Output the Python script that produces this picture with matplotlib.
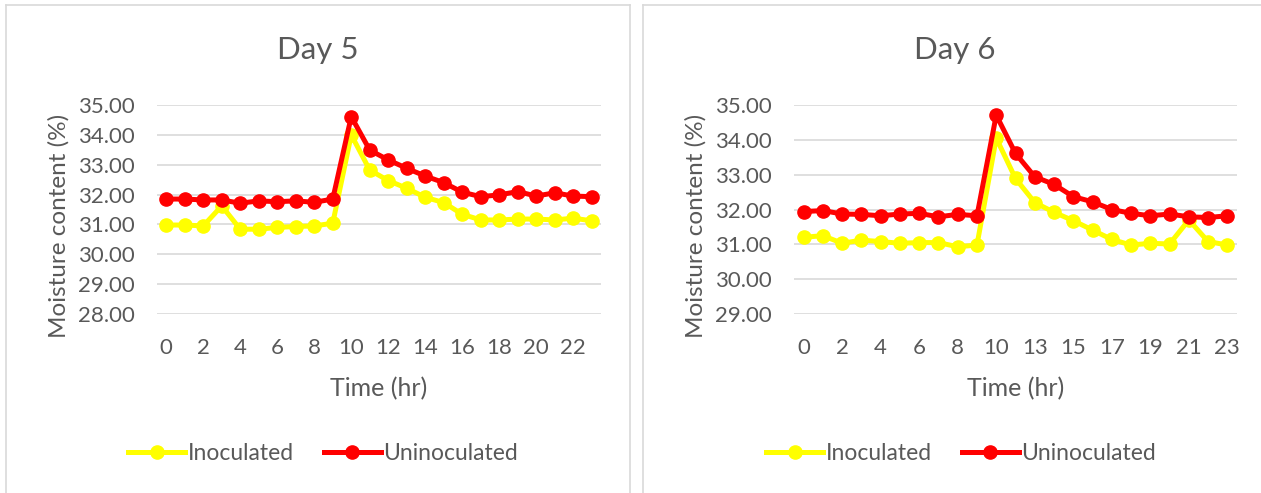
import matplotlib
matplotlib.use("Agg")
import matplotlib.pyplot as plt
from matplotlib.lines import Line2D

plt.rcParams["font.family"] = ["Lato", "DejaVu Sans"]

# Day 5: hourly readings 0..23
day5_hours = [str(h) for h in range(24)]
day5_inoc = [30.98, 30.98, 30.95, 31.62, 30.84, 30.84, 30.90, 30.93, 30.95, 31.04,
             34.00, 32.82, 32.47, 32.21, 31.91, 31.73, 31.34, 31.15, 31.15, 31.18,
             31.18, 31.15, 31.21, 31.12]
day5_uninoc = [31.85, 31.85, 31.82, 31.82, 31.71, 31.79, 31.76, 31.79, 31.74, 31.85,
               34.61, 33.49, 33.16, 32.88, 32.62, 32.40, 32.08, 31.93, 31.99, 32.10,
               31.95, 32.06, 31.95, 31.93]

# Day 6: 23 readings (hour 12 missing)
day6_hours = [str(h) for h in list(range(12)) + list(range(13, 24))]
day6_inoc = [31.20, 31.25, 31.03, 31.12, 31.08, 31.03, 31.05, 31.05, 30.93, 30.98,
             34.05, 32.89, 32.20, 31.92, 31.68, 31.41, 31.14, 30.98, 31.03, 31.01,
             31.70, 31.08, 30.98]
day6_uninoc = [31.94, 31.97, 31.87, 31.86, 31.82, 31.87, 31.89, 31.79, 31.86, 31.82,
               34.71, 33.61, 32.94, 32.72, 32.37, 32.22, 32.00, 31.89, 31.82, 31.87,
               31.79, 31.77, 31.82]

W, H = 1261, 493
TXT = "#595959"
GRID = "#d9d9d9"
YEL = "#ffff00"
RED = "#ff0000"

fig = plt.figure(figsize=(W / 100, H / 100), dpi=100)


def px(x0, y0, x1, y1):
    return [x0 / W, 1 - y1 / H, (x1 - x0) / W, (y1 - y0) / H]


def panel_border(x0, x1):
    for xs, ys in [([x0, x0], [5, H + 5]), ([x0, x1], [5, 5]), ([x1, x1], [5, H + 5])]:
        fig.add_artist(Line2D([x / W for x in xs], [1 - y / H for y in ys],
                              color=GRID, lw=1.2))


def draw(rect, hours, inoc, uninoc, ymin, title, leg_x, title_x):
    ax = fig.add_axes(rect)
    xs = range(len(hours))
    ax.plot(xs, inoc, color=YEL, lw=3.6, marker="o", ms=9.5, label="Inoculated",
            solid_joinstyle="round")
    ax.plot(xs, uninoc, color=RED, lw=3.6, marker="o", ms=9.5, label="Uninoculated",
            solid_joinstyle="round")
    ax.set_xlim(-0.5, len(hours) - 0.5)
    ax.set_ylim(ymin, 35)
    ax.set_yticks(range(ymin, 36))
    ax.set_yticklabels([f"{v:.2f}" for v in range(ymin, 36)])
    ax.set_xticks(list(xs)[::2])
    ax.set_xticklabels(hours[::2])
    ax.grid(axis="y", color=GRID, lw=1.2)
    ax.set_axisbelow(True)
    for s in ax.spines.values():
        s.set_visible(False)
    ax.tick_params(length=0, labelsize=16, labelcolor=TXT)
    ax.tick_params(axis="y", pad=16)
    ax.tick_params(axis="x", pad=17)
    ax.set_xlabel("Time (hr)", fontsize=18, color=TXT, labelpad=14)
    ax.set_ylabel("Moisture content (%)", fontsize=17.5, color=TXT, labelpad=6)
    ax.yaxis.label.set_y(0.42)
    fig.text(title_x, 1 - 50 / H, title, fontsize=22.5, color=TXT,
             ha="center", va="center")
    fig.legend(*ax.get_legend_handles_labels(), loc="center",
               bbox_to_anchor=(leg_x, 1 - 454 / H), ncol=2, frameon=False,
               fontsize=16.5, handlelength=2.5, handletextpad=0.1,
               columnspacing=1.3, labelcolor=TXT)
    return ax


panel_border(6, 630)
panel_border(643, 1290)

draw(px(157, 105, 601, 314), day5_hours, day5_inoc, day5_uninoc, 28, "Day 5",
     323 / W, 318 / W)
draw(px(794, 105, 1237, 314), day6_hours, day6_inoc, day6_uninoc, 29, "Day 6",
     961 / W, 955 / W)

fig.savefig("out.png", dpi=100)
